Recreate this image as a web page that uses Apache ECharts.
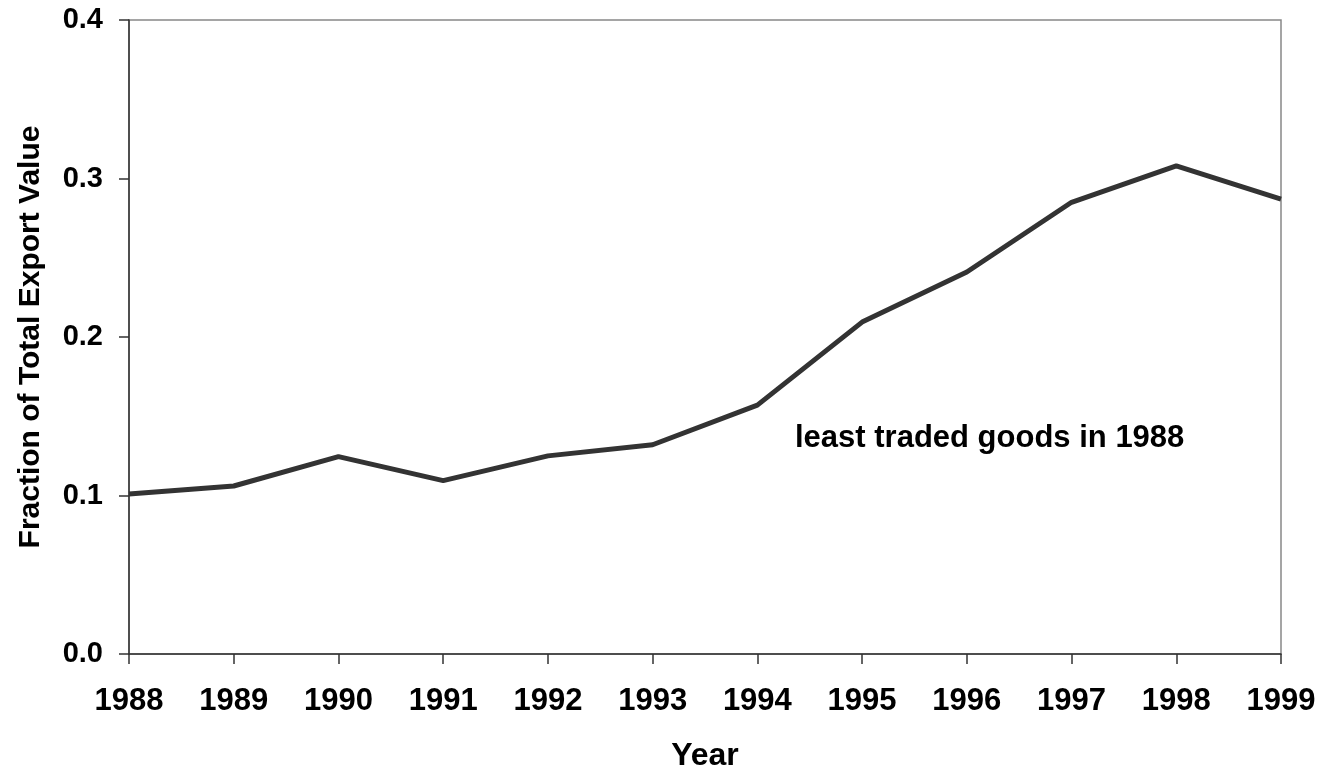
<!DOCTYPE html>
<html><head><meta charset="utf-8">
<script src="https://cdn.jsdelivr.net/npm/echarts@6/dist/echarts.min.js"></script>
<style>html,body{margin:0;padding:0;background:#fff}#c{width:1336px;height:777px}</style>
</head><body><div id="c"></div>
<script>
const years = ['1988','1989','1990','1991','1992','1993','1994','1995','1996','1997','1998','1999'];
const fraction = [0.101,0.106,0.1245,0.1094,0.125,0.132,0.157,0.2094,0.241,0.285,0.308,0.287];
const yTicks = [0, 0.1, 0.2, 0.3, 0.4];
const annotation = 'least traded goods in 1988';
const FONT = '"Liberation Sans", Arial, sans-serif';
const chart = echarts.init(document.getElementById('c'));
chart.setOption({
  animation: false,
  grid: {left: 129, right: 55, top: 20, bottom: 122, show: true, borderColor: '#888', borderWidth: 1.5, backgroundColor: 'transparent'},
  xAxis: {
    type: 'category', data: years, boundaryGap: false,
    name: 'Year', nameLocation: 'middle', nameGap: 86,
    nameTextStyle: {fontFamily: FONT, fontWeight: 'bold', fontSize: 32, color: '#000'},
    axisLine: {lineStyle: {color: '#333', width: 1.5}},
    axisTick: {length: 10, lineStyle: {color: '#333', width: 1.5}},
    axisLabel: {margin: 32, fontFamily: FONT, fontWeight: 'bold', fontSize: 31, color: '#000'},
    splitLine: {show: false}
  },
  yAxis: {
    type: 'value', min: 0, max: 0.4, interval: 0.1,
    name: 'Fraction of Total Export Value', nameLocation: 'middle', nameGap: 83,
    nameTextStyle: {fontFamily: FONT, fontWeight: 'bold', fontSize: 30, color: '#000'},
    axisLine: {show: true, lineStyle: {color: '#333', width: 1.5}},
    axisTick: {show: true, length: 10, lineStyle: {color: '#333', width: 1.5}},
    axisLabel: {margin: 26, fontFamily: FONT, fontWeight: 'bold', fontSize: 29, color: '#000',
      formatter: v => yTicks.includes(Math.round(v*10)/10) ? v.toFixed(1) : ''},
    splitLine: {show: false}
  },
  series: [{
    type: 'line', data: fraction, symbol: 'none',
    lineStyle: {color: '#333', width: 5}
  }],
  graphic: [{
    type: 'text', left: 795, top: 423,
    style: {text: annotation, fontFamily: FONT, fontWeight: 'bold', fontSize: 31, fill: '#000'}
  }]
});
</script></body></html>
